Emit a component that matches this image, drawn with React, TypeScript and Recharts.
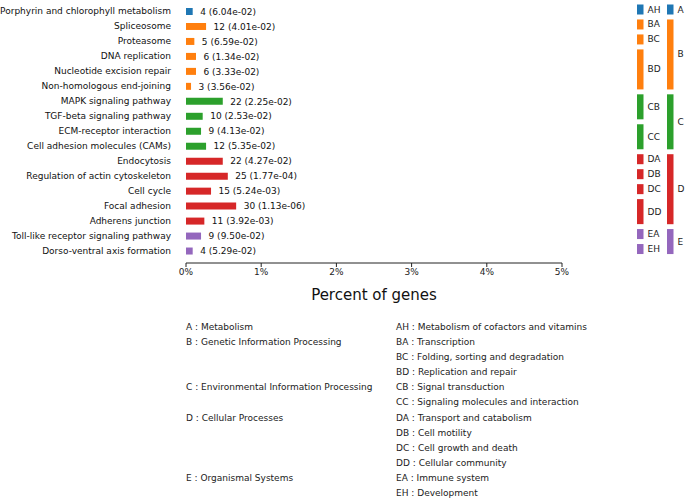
import React from "react"
import { Bar, BarChart, Cell, LabelList, Label, XAxis, YAxis } from "recharts"

const pathways = [
  "Porphyrin and chlorophyll metabolism",
  "Spliceosome",
  "Proteasome",
  "DNA replication",
  "Nucleotide excision repair",
  "Non-homologous end-joining",
  "MAPK signaling pathway",
  "TGF-beta signaling pathway",
  "ECM-receptor interaction",
  "Cell adhesion molecules (CAMs)",
  "Endocytosis",
  "Regulation of actin cytoskeleton",
  "Cell cycle",
  "Focal adhesion",
  "Adherens junction",
  "Toll-like receptor signaling pathway",
  "Dorso-ventral axis formation",
]
const geneCounts = [4, 12, 5, 6, 6, 3, 22, 10, 9, 12, 22, 25, 15, 30, 11, 9, 4]
const pValues = [
  "6.04e-02", "4.01e-02", "6.59e-02", "1.34e-02", "3.33e-02", "3.56e-02",
  "2.25e-02", "2.53e-02", "4.13e-02", "5.35e-02", "4.27e-02", "1.77e-04",
  "5.24e-03", "1.13e-06", "3.92e-03", "9.50e-02", "5.29e-02",
]
const percentGenes = [
  0.089, 0.267, 0.111, 0.133, 0.133, 0.067, 0.489, 0.222, 0.2, 0.267,
  0.489, 0.556, 0.333, 0.667, 0.244, 0.2, 0.089,
]
const subCodes = ["AH", "BA", "BC", "BD", "BD", "BD", "CB", "CB", "CC", "CC", "DA", "DB", "DC", "DD", "DD", "EA", "EH"]
const classCodes = ["A", "B", "B", "B", "B", "B", "C", "C", "C", "C", "D", "D", "D", "D", "D", "E", "E"]

const xTicks = [0, 1, 2, 3, 4, 5]

const classLegendCodes = ["A", "B", "C", "D", "E"]
const classLegendNames = [
  "Metabolism",
  "Genetic Information Processing",
  "Environmental Information Processing",
  "Cellular Processes",
  "Organismal Systems",
]
const subLegendCodes = ["AH", "BA", "BC", "BD", "CB", "CC", "DA", "DB", "DC", "DD", "EA", "EH"]
const subLegendNames = [
  "Metabolism of cofactors and vitamins",
  "Transcription",
  "Folding, sorting and degradation",
  "Replication and repair",
  "Signal transduction",
  "Signaling molecules and interaction",
  "Transport and catabolism",
  "Cell motility",
  "Cell growth and death",
  "Cellular community",
  "Immune system",
  "Development",
]

const classColors: Record<string, string> = {
  A: "#1f77b4",
  B: "#ff7f0e",
  C: "#2ca02c",
  D: "#d62728",
  E: "#9467bd",
}

const FONT = "'DejaVu Sans', sans-serif"
const W = 685
const H = 310
const TOP = 4
const AXIS_H = 47
const PAD_BOTTOM = 4.5

const data = pathways.map((name, i) => ({
  name,
  pct: percentGenes[i],
  label: `${geneCounts[i]} (${pValues[i]})`,
  sub: subCodes[i],
  cls: classCodes[i],
  one: 1,
}))

// single-line tick, recharts' default one wraps long names
const PathwayTick = ({ x, y, payload }: any) => (
  <text x={x} y={y} textAnchor="end" dominantBaseline="central" fontSize={9} fontFamily={FONT} fill="#111">
    {payload.value}
  </text>
)

// draws one rect per run of equal codes, labelled to the right
const groupShape = (codes: string[]) => (props: any) => {
  const { x, y, width, height, index } = props
  if (index > 0 && codes[index - 1] === codes[index]) return <g />
  let n = 1
  while (codes[index + n] === codes[index]) n++
  const top = y + 0.5
  const bottom = y + n * height - 4.5
  const code = codes[index]
  return (
    <g>
      <rect x={x} y={top} width={width} height={bottom - top} fill={classColors[code[0]]} />
      <text
        x={x + width + 4}
        y={(top + bottom) / 2}
        dominantBaseline="central"
        fontSize={9}
        fontFamily={FONT}
        fill="#222"
      >
        {code}
      </text>
    </g>
  )
}

function MarkerColumn({ codes, left, right }: { codes: string[]; left: number; right: number }) {
  return (
    <div style={{ position: "absolute", left: 0, top: 0, pointerEvents: "none" }}>
      <BarChart
        width={W}
        height={H}
        data={data}
        layout="vertical"
        barCategoryGap={0}
        margin={{ top: TOP, right, left, bottom: AXIS_H }}
      >
        <XAxis type="number" domain={[0, 1]} hide />
        <YAxis type="category" dataKey="name" hide padding={{ top: 0, bottom: PAD_BOTTOM }} />
        <Bar dataKey="one" isAnimationActive={false} shape={groupShape(codes)} />
      </BarChart>
    </div>
  )
}

export default function App() {
  const firstRowOf = (cls: string) => subLegendCodes.findIndex((c) => c[0] === cls)
  return (
    <div
      style={{
        position: "absolute",
        left: 0,
        top: 0,
        width: W,
        height: 498,
        background: "#fff",
        fontFamily: FONT,
        color: "#222",
      }}
    >
      <div style={{ position: "absolute", left: 0, top: 0 }}>
        <BarChart
          width={W}
          height={H}
          data={data}
          layout="vertical"
          margin={{ top: TOP, right: 123, left: 0, bottom: 0 }}
        >
          <XAxis
            type="number"
            domain={[0, 5]}
            ticks={xTicks}
            tickFormatter={(v) => `${v}%`}
            height={AXIS_H}
            stroke="#222"
            tickSize={4}
            tick={{ fill: "#222", fontSize: 9, fontFamily: FONT }}
          >
            <Label
              value="Percent of genes"
              position="insideBottom"
              offset={10}
              style={{ fontSize: 15, fontFamily: FONT, fill: "#111" }}
            />
          </XAxis>
          <YAxis
            type="category"
            dataKey="name"
            width={186}
            axisLine={false}
            tickLine={false}
            tickSize={0}
            tickMargin={15}
            interval={0}
            padding={{ top: 0, bottom: PAD_BOTTOM }}
            tick={<PathwayTick />}
          />
          <Bar dataKey="pct" barSize={7} isAnimationActive={false}>
            {data.map((d, i) => (
              <Cell key={i} fill={classColors[d.cls]} />
            ))}
            <LabelList
              dataKey="label"
              position="right"
              offset={7.5}
              style={{ fontSize: 9, fontFamily: FONT, fill: "#111" }}
            />
          </Bar>
        </BarChart>
      </div>

      <MarkerColumn codes={subCodes} left={637} right={W - 643.5} />
      <MarkerColumn codes={classCodes} left={667} right={W - 673.5} />

      <div style={{ position: "absolute", left: 0, top: 320, fontSize: 9, lineHeight: "15.1px" }}>
        {subLegendCodes.map((code, i) => {
          const ci = classLegendCodes.findIndex((c) => firstRowOf(c) === i)
          return (
            <div key={code} style={{ position: "relative", height: 15.1, whiteSpace: "nowrap" }}>
              {ci >= 0 && (
                <span style={{ position: "absolute", left: 186 }}>
                  {classLegendCodes[ci]} : {classLegendNames[ci]}
                </span>
              )}
              <span style={{ position: "absolute", left: 396 }}>
                {code} : {subLegendNames[i]}
              </span>
            </div>
          )
        })}
      </div>
    </div>
  )
}
